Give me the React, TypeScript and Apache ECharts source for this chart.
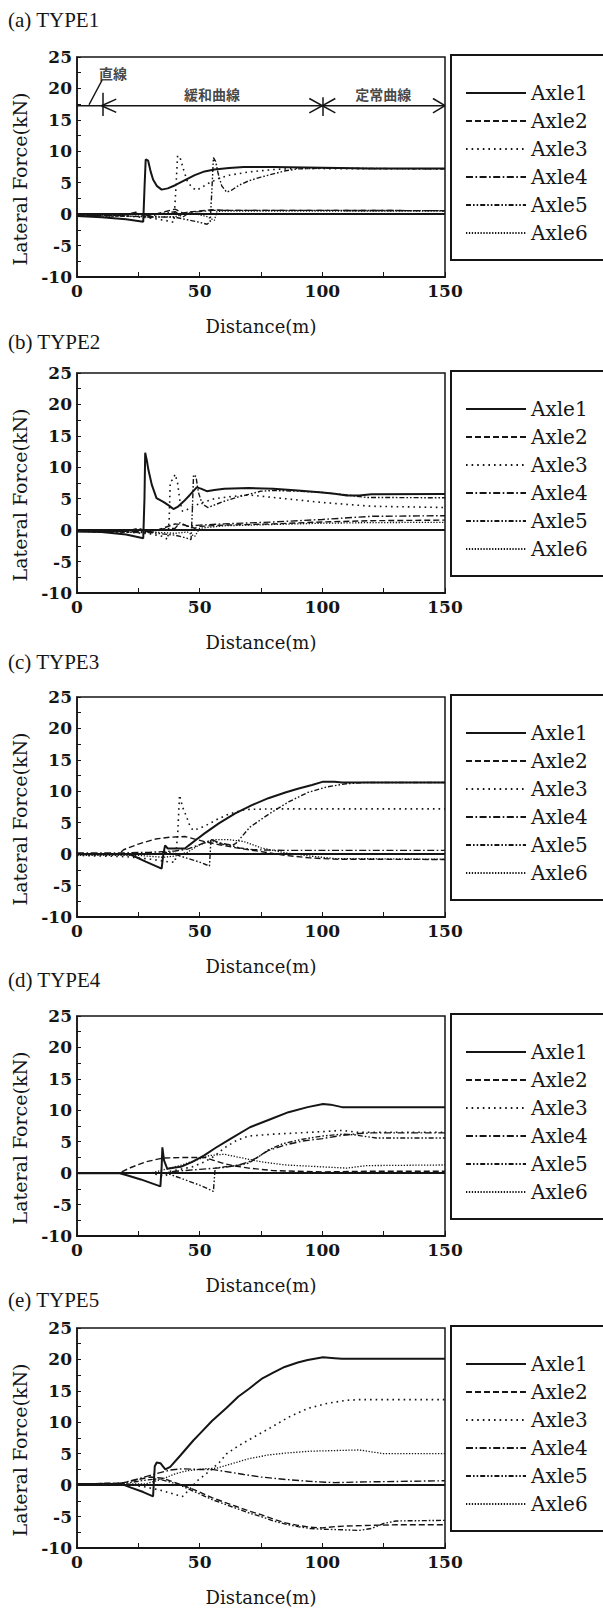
import React, { useEffect, useRef } from "react";
import * as echarts from "echarts";

// ---------- labels ----------
const AXLES = ["Axle1", "Axle2", "Axle3", "Axle4", "Axle5", "Axle6"];
const PANEL_TITLES = ["(a) TYPE1", "(b) TYPE2", "(c) TYPE3", "(d) TYPE4", "(e) TYPE5"];
const X_NAME = "Distance(m)";
const Y_NAME = "Lateral Force(kN)";
const X_RANGE = [0, 150];
const X_TICK_STEP = 50;
const Y_RANGE = [-10, 25];
const Y_TICK_STEP = 5;

// ---------- (a) TYPE1 ----------
const T1_AXLE1 = [[0,-0.3],[10,-0.5],[20,-0.8],[27,-1.2],[27.5,4],[28,8.7],[29,8.5],[30,6.8],[31,5.5],[32.5,4.5],[34.5,3.9],[37,4.1],[40,4.6],[44,5.4],[48,6.2],[52,6.8],[56,7.1],[62,7.35],[68,7.5],[80,7.5],[100,7.4],[120,7.25],[150,7.25]];
const T1_AXLE2 = [[0,-0.2],[15,-0.2],[20,-0.1],[24,0.3],[27,-0.2],[30,-0.6],[33,0.1],[37,0.5],[40,0.8],[43,0.2],[47,0.4],[50,0.5],[55,0.7],[60,0.6],[80,0.6],[100,0.6],[150,0.55]];
const T1_AXLE3 = [[0,-0.2],[20,-0.3],[30,-0.6],[36,-1.0],[39.5,-1.3],[40.3,4],[41,9.3],[42,9.0],[43.5,7],[45,5.2],[47,4.2],[48.8,3.8],[51,4.3],[54,5.0],[58,5.7],[62,6.2],[70,6.7],[80,7.1],[90,7.3],[100,7.25],[150,7.2]];
const T1_AXLE4 = [[0,-0.2],[20,-0.2],[25,0.1],[30,-0.3],[35,0.1],[40,0.4],[43,-0.5],[46,0.3],[50,0.4],[55,0.6],[60,0.6],[100,0.6],[150,0.55]];
const T1_AXLE5 = [[0,-0.2],[30,-0.4],[40,-0.5],[45,-0.9],[50,-1.3],[53,-1.6],[54.3,-1.2],[55,4],[55.6,9.0],[56.5,8.4],[57.5,6.5],[59,4.5],[61,3.5],[63,3.8],[66,4.6],[70,5.3],[75,5.9],[80,6.4],[85,6.9],[90,7.2],[100,7.3],[150,7.2]];
const T1_AXLE6 = [[0,-0.3],[25,-0.3],[30,-0.5],[40,-0.4],[45,0.3],[50,-0.1],[53,-0.4],[56,-1.0],[57,0.4],[60,0.5],[100,0.5],[150,0.5]];

// ---------- (b) TYPE2 ----------
const T2_AXLE1 = [[0,-0.2],[10,-0.3],[20,-0.7],[27,-1.3],[27.5,5],[27.8,12.3],[28.5,11],[29.1,9.6],[30.5,7.2],[32.4,5.1],[35.2,4.5],[37.5,3.9],[39.3,3.35],[41,3.7],[43.3,4.5],[46,5.6],[48.8,6.8],[50.5,6.6],[52.9,6.2],[56,6.4],[60,6.6],[70,6.7],[80,6.6],[90,6.3],[100,6.0],[105,5.8],[110,5.5],[115,5.5],[120,5.7],[150,5.75]];
const T2_AXLE2 = [[0,-0.2],[20,-0.2],[25,0.3],[30,-0.4],[35,0.3],[40,1.0],[44,0.8],[48,0.3],[50,0.6],[60,0.8],[80,1.0],[100,1.3],[120,1.5],[150,1.6]];
const T2_AXLE3 = [[0,-0.2],[20,-0.3],[30,-0.6],[35,-1.0],[37,-1.5],[37.6,2],[38,7.7],[39,8.0],[40,8.9],[41,7.5],[42,4.5],[43,3.0],[45,3.3],[48,3.9],[52,4.5],[56,5.0],[62,5.3],[70,5.6],[75,5.4],[85,5.0],[100,4.4],[120,3.8],[150,3.6]];
const T2_AXLE4 = [[0,-0.2],[30,-0.2],[35,0.2],[40,0.3],[42,1.2],[45,0.6],[50,0.8],[60,1.0],[80,1.3],[100,1.7],[120,2.2],[150,2.3]];
const T2_AXLE5 = [[0,-0.2],[30,-0.4],[40,-0.8],[44,-1.2],[46.5,-1.5],[47,3],[47.5,8.8],[48.5,8.5],[49.5,6],[51,4.2],[53.3,3.6],[56,4.0],[60,4.6],[65,5.2],[70,5.7],[75,6.2],[80,6.3],[90,6.2],[100,6.0],[110,5.6],[118,5.2],[150,5.15]];
const T2_AXLE6 = [[0,-0.2],[30,-0.3],[40,-0.5],[45,-0.3],[48,-1.0],[50,0.3],[60,0.7],[80,0.9],[100,1.1],[120,1.2],[150,1.25]];

// ---------- (c) TYPE3 ----------
const T3_AXLE1 = [[0,0],[20,0],[22,-0.1],[28,-1.2],[34.5,-2.3],[35.2,0],[35.9,1.4],[37,0.9],[44,0.9],[45.6,1.4],[48.3,2.2],[52,3.3],[57.8,4.9],[64.5,6.5],[71.3,7.8],[78,8.9],[84.9,9.8],[90,10.4],[95.8,11.0],[100,11.5],[105,11.5],[108,11.4],[150,11.4]];
const T3_AXLE2 = [[0,0],[17,0],[19,0.7],[25,1.6],[32,2.4],[38,2.7],[44,2.8],[48,2.4],[52,2.0],[58,1.5],[65,1.0],[75,0.4],[85,-0.2],[95,-0.6],[105,-0.8],[150,-0.85]];
const T3_AXLE3 = [[0,-0.2],[20,-0.4],[30,-0.8],[37,-1.2],[40,-1.3],[41,3],[41.8,9.4],[43,7.5],[44.6,6.0],[46,4.5],[47.3,3.8],[50,4.1],[52.7,4.6],[57,5.5],[62,6.4],[68.6,7.1],[80,7.2],[100,7.2],[150,7.2]];
const T3_AXLE4 = [[0,0.2],[20,0.2],[30,0.3],[40,0.5],[45,0.8],[50,1.5],[55,2.3],[58,1.8],[62,1.5],[66,1.0],[72,0.7],[85,0.6],[100,0.6],[150,0.6]];
const T3_AXLE5 = [[0,0],[30,0],[38,0.3],[42,-0.3],[47,-0.9],[51,-1.4],[54,-1.9],[54.6,2.3],[56,2.0],[60,1.5],[63,1.3],[65,1.8],[70.5,4.3],[78.3,6.4],[86.2,8.3],[94,9.8],[101.9,10.7],[109.7,11.2],[117.5,11.4],[150,11.4]];
const T3_AXLE6 = [[0,-0.2],[25,-0.2],[35,-0.5],[40,-0.3],[45,0.3],[50,1.5],[56,2.3],[62,2.3],[68,2.0],[75,1.0],[85,0.2],[95,-0.3],[105,-0.7],[150,-0.8]];

// ---------- (d) TYPE4 ----------
const T4_AXLE1 = [[0,0],[17,0],[20,-0.3],[26,-1.0],[34,-2.1],[34.5,1],[34.8,4.1],[35.5,2],[36.8,0.7],[40,0.9],[42.3,1.0],[47,1.8],[51.7,2.8],[56.4,4.0],[62.7,5.5],[70.5,7.3],[78.3,8.5],[86.2,9.7],[94,10.5],[100.3,11.0],[103.4,10.9],[108,10.5],[150,10.5]];
const T4_AXLE2 = [[0,0],[17,0],[22,0.9],[28,1.8],[35,2.4],[45,2.5],[52,2.5],[56,2.0],[60,1.5],[65,1.1],[70,0.8],[80,0.4],[100,0.2],[120,0.3],[150,0.3]];
const T4_AXLE3 = [[0,0],[30,0],[36,-0.5],[38,0.3],[42,0.6],[47,1.0],[52,1.8],[56,2.7],[60,4.0],[65,5.2],[70,5.9],[80,6.2],[90,6.4],[100,6.6],[108,6.8],[114,6.5],[120,6.5],[150,6.5]];
const T4_AXLE4 = [[0,0],[35,0],[40,0.3],[50,0.6],[60,0.9],[66,1.3],[70,1.8],[73,2.4],[78,3.6],[85,4.5],[92,5.1],[100,5.5],[108,6.0],[115,6.3],[120,6.4],[150,6.4]];
const T4_AXLE5 = [[0,0],[35,0],[38,-0.2],[45,-1.2],[50,-1.9],[55.6,-2.9],[56.3,0.8],[60,1.0],[65,1.2],[70,1.6],[74,2.6],[78,3.7],[84,4.7],[92,5.4],[100,5.9],[108,6.2],[113,6.1],[118,5.8],[122,5.6],[150,5.6]];
const T4_AXLE6 = [[0,0],[30,0],[36,0.6],[42,1.2],[48,2.0],[54,2.8],[60,3.0],[65,2.6],[70,2.2],[75,1.8],[85,1.3],[100,1.0],[110,0.8],[118,1.2],[150,1.3]];

// ---------- (e) TYPE5 ----------
const T5_AXLE1 = [[0,0.2],[18,0.2],[22,-0.4],[27,-1.1],[31,-1.8],[31.7,3.0],[32.5,3.6],[34,3.5],[36,2.5],[38,2.9],[42.3,4.8],[47.4,7.1],[50.1,8.2],[55,10.2],[61,12.3],[65.8,14.1],[70,15.3],[75.2,16.9],[80,17.9],[84.6,18.8],[90,19.5],[94,19.9],[100.3,20.35],[105,20.2],[108,20.1],[150,20.1]];
const T5_AXLE2 = [[0,0.2],[18,0.3],[25,0.9],[30,1.3],[35,1.1],[40,0.4],[45,-0.3],[50,-1.1],[55,-2.0],[60,-2.7],[65,-3.4],[70,-4.1],[75,-4.7],[80,-5.4],[85,-6.0],[90,-6.4],[95,-6.7],[100,-6.8],[105,-6.6],[110,-6.5],[120,-6.4],[130,-6.3],[150,-6.3]];
const T5_AXLE3 = [[0,0.2],[20,0.2],[28,-0.3],[35,-0.9],[40,-1.5],[43,-1.8],[46,-0.6],[49,0.7],[52,1.6],[54.2,2.3],[58,3.6],[61,5.0],[66,6.3],[70.5,7.3],[78.3,9.0],[86.2,10.8],[94,12.2],[101.9,13.0],[109.7,13.5],[115,13.6],[150,13.6]];
const T5_AXLE4 = [[0,0.2],[18,0.3],[25,1.0],[32,1.8],[38,2.4],[43,2.6],[50,2.5],[55,2.5],[60,2.2],[68,1.7],[75,1.3],[85,0.9],[95,0.6],[105,0.4],[115,0.5],[150,0.7]];
const T5_AXLE5 = [[0,0.2],[20,0.3],[28,0.8],[33,1.0],[38,0.5],[42,0],[46,-0.7],[50,-1.4],[55,-2.3],[60,-3.0],[65,-3.7],[70,-4.4],[75,-5.0],[80,-5.7],[85,-6.2],[90,-6.6],[95,-6.9],[100,-7.0],[108,-7.1],[115,-7.2],[120,-6.9],[125,-6.1],[130,-5.7],[150,-5.6]];
const T5_AXLE6 = [[0,0.2],[20,0.2],[28,0.2],[35,1.0],[40,1.8],[45,2.3],[52,2.6],[57,2.7],[63,3.4],[70,4.2],[78,4.8],[85,5.1],[95,5.4],[105,5.5],[115,5.6],[120,5.3],[125,5.0],[150,5.0]];

// ---------- (a) section annotation (data coordinates) ----------
const ANNO_LINE = [[0, 17.25], [150, 17.25]];
const ANNO_SEGMENTS = [
  [[4.9, 17.4], [10.2, 21.3]],
  [[10.4, 19.3], [10.4, 15.6]],
  [[10, 17.25], [16, 18.3]],
  [[10, 17.25], [16, 16.2]],
  [[100, 18.6], [100, 15.6]],
  [[94.7, 18.4], [105.3, 16.1]],
  [[94.7, 16.1], [105.3, 18.4]],
  [[145.1, 18.4], [150, 17.25]],
  [[145.1, 16.1], [150, 17.25]],
];
const ANNO_LABELS = [
  { name: "直線", value: [14.7, 22.4] },
  { name: "緩和曲線", value: [55, 19.1] },
  { name: "定常曲線", value: [124.8, 19.1] },
];

const PANEL_DATA = [
  [T1_AXLE1, T1_AXLE2, T1_AXLE3, T1_AXLE4, T1_AXLE5, T1_AXLE6],
  [T2_AXLE1, T2_AXLE2, T2_AXLE3, T2_AXLE4, T2_AXLE5, T2_AXLE6],
  [T3_AXLE1, T3_AXLE2, T3_AXLE3, T3_AXLE4, T3_AXLE5, T3_AXLE6],
  [T4_AXLE1, T4_AXLE2, T4_AXLE3, T4_AXLE4, T4_AXLE5, T4_AXLE6],
  [T5_AXLE1, T5_AXLE2, T5_AXLE3, T5_AXLE4, T5_AXLE5, T5_AXLE6],
];

// ---------- layout & style ----------
const GRID_TOPS = [57, 373, 697, 1016, 1328];
const TITLE_Y = [20, 342, 662, 980, 1300];
const GRID_LEFT = 77;
const GRID_W = 368;
const GRID_H = 220;
const INK = "#151515";
const NUM_FONT = "DejaVu Serif";
const LINE_TYPES: any[] = ["solid", [6, 3], [1.6, 4], [7, 2.5, 1.6, 2.5], [5, 2, 1.6, 2, 1.6, 2], [1.3, 1.6]];
const LINE_WIDTHS = [2, 1.4, 1.6, 1.4, 1.4, 1.3];

function buildOption() {
  const grid: any[] = [];
  const xAxis: any[] = [];
  const yAxis: any[] = [];
  const legend: any[] = [];
  const series: any[] = [];
  const graphic: any[] = [];

  PANEL_DATA.forEach((panel, i) => {
    const top = GRID_TOPS[i];
    grid.push({
      left: GRID_LEFT, top, width: GRID_W, height: GRID_H,
      show: true, borderColor: INK, borderWidth: 1.5, backgroundColor: "transparent",
    });
    xAxis.push({
      type: "value", gridIndex: i, min: X_RANGE[0], max: X_RANGE[1], interval: X_TICK_STEP,
      axisLine: { show: true, onZero: false, lineStyle: { color: INK, width: 2 } },
      axisTick: { show: true, inside: true, length: 5, lineStyle: { color: INK, width: 1 } },
      minorTick: { show: true, splitNumber: 2, length: 5, lineStyle: { color: INK, width: 1 } },
      splitLine: { show: false },
      axisLabel: { color: INK, fontFamily: NUM_FONT, fontWeight: "bold", fontSize: 17, margin: 5 },
      name: X_NAME, nameLocation: "middle", nameGap: 40,
      nameTextStyle: { color: INK, fontFamily: NUM_FONT, fontSize: 18 },
    });
    yAxis.push({
      type: "value", gridIndex: i, min: Y_RANGE[0], max: Y_RANGE[1], interval: Y_TICK_STEP,
      axisLine: { show: true, onZero: false, lineStyle: { color: INK, width: 1.5 } },
      axisTick: { show: true, inside: true, length: 4, lineStyle: { color: INK, width: 1 } },
      minorTick: { show: true, splitNumber: 2, length: 4, lineStyle: { color: INK, width: 1 } },
      splitLine: { show: false },
      axisLabel: { color: INK, fontFamily: NUM_FONT, fontWeight: "bold", fontSize: 17, margin: 5 },
    });
    legend.push({
      data: AXLES, orient: "vertical", left: 465, top: top + 25,
      itemWidth: 60, itemHeight: 14, itemGap: 6, padding: 0, selectedMode: false,
      itemStyle: { opacity: 0, color: "transparent", borderColor: "transparent", borderWidth: 0 },
      textStyle: { fontFamily: NUM_FONT, fontSize: 20, color: INK, lineHeight: 22 },
    });
    panel.forEach((data, k) => {
      const s: any = {
        type: "line", name: AXLES[k], xAxisIndex: i, yAxisIndex: i, data,
        symbol: "none", showSymbol: false, smooth: false, silent: true,
        lineStyle: { color: INK, width: LINE_WIDTHS[k], type: LINE_TYPES[k] },
        itemStyle: { color: INK }, z: 3,
      };
      if (k === 0) {
        s.markLine = {
          silent: true, symbol: ["none", "none"], label: { show: false },
          lineStyle: { color: INK, type: "solid", width: 2 },
          data: [{ yAxis: 0 }],
        };
      }
      series.push(s);
    });
    graphic.push({
      type: "rect", shape: { x: 451, y: top - 2, width: 170, height: 205 },
      style: { fill: "none", stroke: INK, lineWidth: 2 }, silent: true,
    });
    graphic.push({
      type: "text", x: 8, y: TITLE_Y[i],
      style: { text: PANEL_TITLES[i], fill: INK, font: '21px "Liberation Serif"', textVerticalAlign: "middle" },
    });
    graphic.push({
      type: "text", x: 20, y: top + GRID_H / 2 + 12, rotation: Math.PI / 2,
      style: {
        text: Y_NAME, fill: INK, font: '19px "DejaVu Serif"',
        textAlign: "center", textVerticalAlign: "middle",
      },
    });
  });

  // section annotation on panel (a)
  series.push({
    type: "line", name: "section", xAxisIndex: 0, yAxisIndex: 0, data: ANNO_LINE,
    symbol: "none", silent: true, lineStyle: { color: INK, width: 1.5, type: "solid" },
    markLine: {
      silent: true, symbol: ["none", "none"], label: { show: false },
      lineStyle: { color: INK, width: 1.5, type: "solid" },
      data: ANNO_SEGMENTS.map(([p, q]) => [{ coord: p }, { coord: q }]),
    },
  });
  series.push({
    type: "scatter", name: "sectionLabel", xAxisIndex: 0, yAxisIndex: 0, data: ANNO_LABELS,
    symbolSize: 1, itemStyle: { color: "transparent" }, silent: true,
    label: {
      show: true, position: "inside", formatter: "{b}", color: INK,
      fontFamily: "Noto Sans CJK JP", fontWeight: "bold", fontSize: 14,
    },
  });

  return { animation: false, backgroundColor: "#fff", grid, xAxis, yAxis, legend, series, graphic };
}

export default function App() {
  const ref = useRef<HTMLDivElement>(null);
  useEffect(() => {
    if (!ref.current) return;
    const chart = echarts.init(ref.current, undefined, { renderer: "svg" });
    chart.setOption(buildOption() as any);
    return () => chart.dispose();
  }, []);
  return (
    <div
      ref={ref}
      style={{ position: "absolute", left: 0, top: 0, width: 603, height: 1608, background: "#fff" }}
    />
  );
}
